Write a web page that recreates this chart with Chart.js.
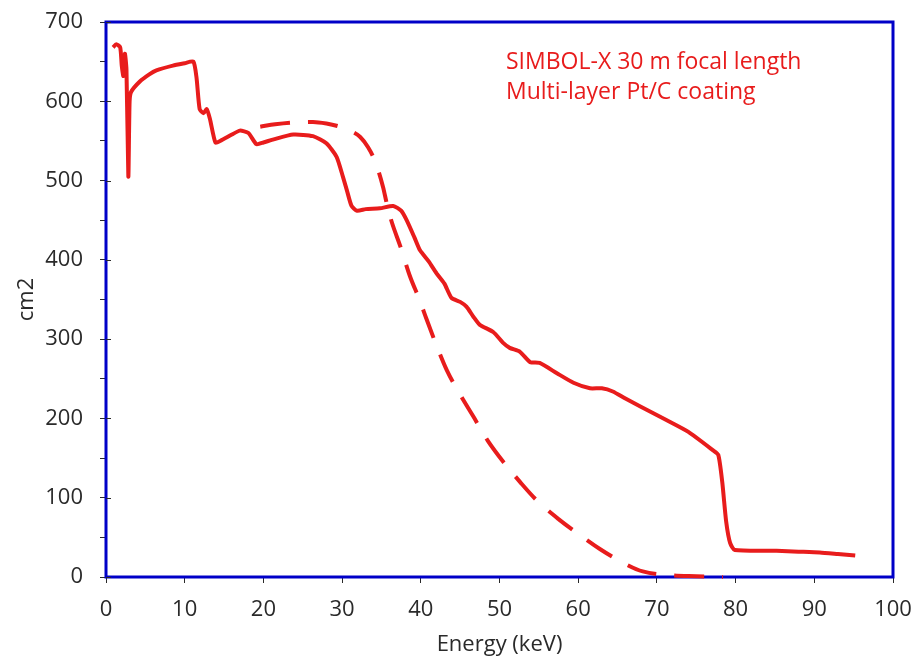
<!DOCTYPE html>
<html>
<head>
<meta charset="utf-8">
<title>SIMBOL-X effective area</title>
<script src="https://cdn.jsdelivr.net/npm/chart.js@4.4.0/dist/chart.umd.min.js"></script>
<style>
  html, body { margin: 0; padding: 0; background: #fff; }
  #wrap { width: 916px; height: 660px; position: relative; }
</style>
</head>
<body>
<div id="wrap"><canvas id="chart" width="916" height="660"></canvas></div>
<script>
// Multi-layer Pt/C, 30 m focal length (solid)
const solidEnergy = [
  0.9, 1.3, 1.8, 2.0, 2.2, 2.4, 2.6, 2.84, 3.0, 3.2, 4.3, 5.5, 6.4, 8.5, 10, 11.1,
  11.5, 11.9, 12.4, 12.8, 13.2, 13.9, 14.5, 16, 17, 18.1, 19.1, 20, 21.3, 23.8, 26.3,
  28, 29.3, 30.1, 30.6, 31.2, 31.9, 33, 34.8, 36.5, 37.5, 38.2, 39.2, 39.9, 41, 42,
  43, 43.9, 45, 45.8, 46.7, 47.5, 49.2, 50.5, 51.3, 52.6, 53.9, 55.1, 57.3, 59.4,
  61.5, 63, 64.4, 66, 67.9, 71.2, 74, 77.1, 77.8, 78.3, 78.8, 79.3, 79.9, 85.2, 88,
  90.7, 93, 95.2
];
const solidArea = [
  668, 672, 668, 645, 632, 660, 640, 505, 600, 612, 625, 634, 639, 645, 648, 650,
  630, 590, 585, 590, 578, 548, 550, 558, 563, 560, 546, 548, 552, 558, 556,
  547, 530, 505, 488, 468, 462, 464, 465, 468, 462, 450, 428, 412, 398, 383,
  370, 352, 347, 341, 328, 318, 309, 295, 289, 284, 271, 270, 257, 245,
  238, 238, 234, 225, 215, 198, 183, 160, 154, 120, 70, 43, 34, 33, 32,
  31, 29, 27
];

// dashed curve
const dashedEnergy = [
  19.6, 21.5, 23.4, 26.3, 28, 29.7, 31, 32.3, 33.3, 34.2, 35.2, 35.7, 36.3, 37.4,
  38.6, 39.9, 40.7, 42, 43.3, 45, 46.7, 48.5, 50.5, 52.6, 54.7, 57.5, 60.2, 62.8,
  65.7, 68.2, 72, 75, 78.4
];
const dashedArea = [
  568, 571, 573, 574, 572, 568, 563, 555, 542, 524, 492, 470, 448, 417,
  380, 348, 326, 292, 261, 230, 202, 172, 145, 120, 97, 73, 53, 35,
  18, 7, 2, 1, 0
];

const xTicks = [0, 10, 20, 30, 40, 50, 60, 70, 80, 90, 100];
const yTicks = [0, 100, 200, 300, 400, 500, 600, 700];
const noteLines = ["SIMBOL-X 30 m focal length", "Multi-layer Pt/C coating"];

const RED = "#e81c1c";
const BLUE = "#0000c8";
const INK = "#2a2a2a";
const FONT = "'Open Sans', 'DejaVu Sans', sans-serif";

const toPoints = (xs, ys) => xs.map((x, i) => ({ x, y: ys[i] }));

Chart.defaults.font.family = FONT;
Chart.defaults.color = INK;

const framePlugin = {
  id: "frame",
  beforeDatasetsDraw(chart) {
    const { ctx, chartArea: a } = chart;
    ctx.save();
    ctx.strokeStyle = BLUE;
    ctx.lineWidth = 3;
    ctx.strokeRect(a.left, a.top, a.right - a.left, a.bottom - a.top);
    // inner half of the major y ticks
    ctx.strokeStyle = INK;
    ctx.lineWidth = 1;
    const y = chart.scales.y;
    yTicks.forEach((v) => {
      const py = Math.round(y.getPixelForValue(v)) + 0.5;
      ctx.beginPath();
      ctx.moveTo(a.left, py);
      ctx.lineTo(a.left + 5, py);
      ctx.stroke();
    });
    ctx.restore();
  },
  afterDatasetsDraw(chart) {
    const { ctx } = chart;
    ctx.save();
    ctx.fillStyle = RED;
    ctx.font = `23px ${FONT}`;
    ctx.textAlign = "left";
    ctx.textBaseline = "alphabetic";
    noteLines.forEach((line, i) => ctx.fillText(line, 506, 69 + i * 30));
    ctx.restore();
  }
};

new Chart(document.getElementById("chart"), {
  type: "line",
  data: {
    datasets: [
      {
        label: "Pt/C",
        data: toPoints(solidEnergy, solidArea),
        borderColor: RED,
        borderWidth: 4,
        pointRadius: 0,
        tension: 0.2,
        clip: false
      },
      {
        label: "dashed",
        data: toPoints(dashedEnergy, dashedArea),
        borderColor: RED,
        borderWidth: 4,
        borderDash: [30, 18],
        pointRadius: 0,
        cubicInterpolationMode: "monotone",
        clip: false
      }
    ]
  },
  options: {
    responsive: false,
    animation: false,
    layout: { padding: { left: 0, top: 22, right: 23, bottom: 0 } },
    plugins: { legend: { display: false }, tooltip: { enabled: false } },
    scales: {
      x: {
        type: "linear",
        min: 0,
        max: 100,
        afterFit: (scale) => {
          scale.height = 83;
          scale.paddingLeft = 0;
          scale.paddingRight = 0;
        },
        afterBuildTicks: (scale) => { scale.ticks = xTicks.map((v) => ({ value: v })); },
        ticks: { font: { size: 22 }, padding: 14, maxRotation: 0, color: INK },
        grid: { drawOnChartArea: false, drawTicks: true, tickLength: 6, color: INK },
        border: { display: false },
        title: {
          display: true,
          text: "Energy (keV)",
          font: { size: 22 },
          color: INK,
          padding: { top: 0, bottom: 2 }
        }
      },
      y: {
        type: "linear",
        min: 0,
        max: 700,
        afterFit: (scale) => {
          scale.width = 106;
          scale.paddingTop = 0;
          scale.paddingBottom = 0;
        },
        ticks: {
          stepSize: 50,
          font: { size: 22 },
          padding: 17,
          color: INK,
          callback: (v) => (v % 100 === 0 ? String(v) : "")
        },
        grid: { drawOnChartArea: false, drawTicks: true, tickLength: 6, color: INK },
        border: { display: false },
        title: {
          display: true,
          text: "cm2",
          font: { size: 22 },
          color: INK,
          padding: { top: 14, bottom: 0 }
        }
      }
    }
  },
  plugins: [framePlugin]
});
</script>
</body>
</html>
